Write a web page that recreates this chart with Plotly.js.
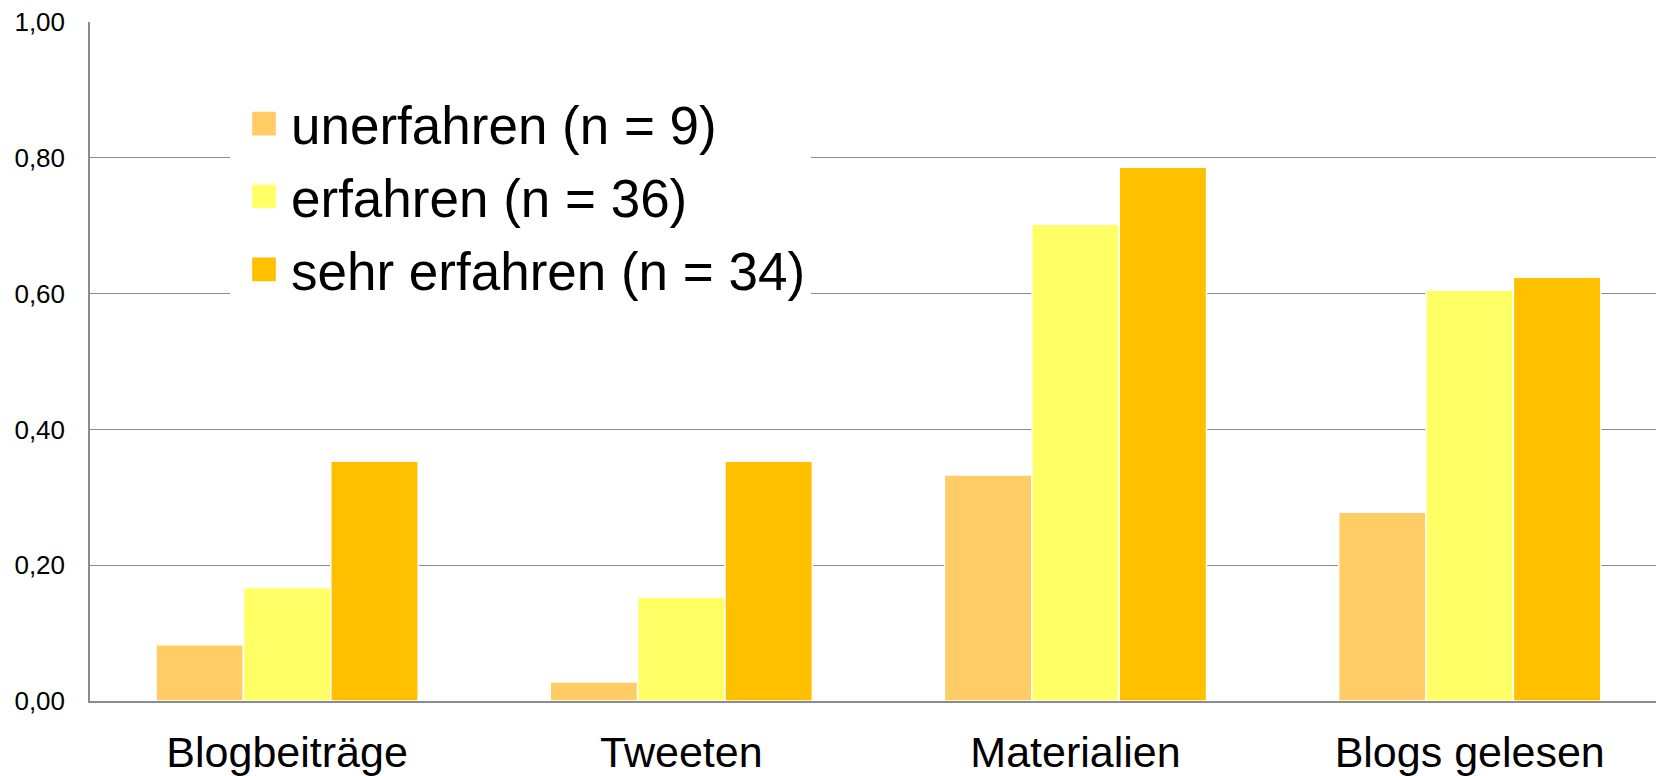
<!DOCTYPE html>
<html>
<head>
<meta charset="utf-8">
<script src="https://cdn.plot.ly/plotly-3.0.1.min.js"></script>
<style>
  html, body { margin: 0; padding: 0; background: #fff; }
  #chart { width: 1656px; height: 776px; }
  .legend .legendpoints path { transform: translate(34px, 0px) scale(2.25); }
</style>
</head>
<body>
<div id="chart"></div>
<script>
const categories = ["Blogbeiträge", "Tweeten", "Materialien", "Blogs gelesen"];
const seriesNames = ["unerfahren (n = 9)", "erfahren (n = 36)", "sehr erfahren (n = 34)"];
const unerfahren = [0.083, 0.028, 0.333, 0.278];
const erfahren = [0.167, 0.153, 0.702, 0.605];
const sehrErfahren = [0.353, 0.353, 0.786, 0.624];
const yTicks = [0, 0.2, 0.4, 0.6, 0.8, 1.0];

const colors = ["#FFCC66", "#FFFF66", "#FFC000"];
const seriesValues = [unerfahren, erfahren, sehrErfahren];

const traces = seriesValues.map((vals, i) => ({
  type: "bar",
  x: categories,
  y: vals,
  name: seriesNames[i],
  legendgroup: "g" + i,
  marker: { color: colors[i], line: { color: "#ffffff", width: 1.5 } },
  hoverinfo: "x+y+name"
}));

const layout = {
  width: 1656,
  height: 776,
  margin: { l: 90, r: 0, t: 22, b: 75 },
  paper_bgcolor: "#ffffff",
  plot_bgcolor: "#ffffff",
  separators: ",.",
  font: { family: "Liberation Sans, Arial, sans-serif", color: "#000000" },
  barmode: "group",
  bargap: 0.335,
  bargroupgap: 0,
  showlegend: true,
  legend: {
    x: 0.0894, y: 0.9107, xanchor: "left", yanchor: "top",
    bgcolor: "#ffffff", borderwidth: 0,
    font: { size: 53, family: "Liberation Sans, Arial, sans-serif", color: "#000000" },
    tracegroupgap: 1,
    itemwidth: 51
  },
  xaxis: {
    type: "category",
    range: [-0.5, 3.4726],
    showgrid: false,
    showline: true,
    linecolor: "#8c8c8c",
    linewidth: 1.5,
    ticks: "",
    tickfont: { size: 43, color: "#000000" },
    ticklabelstandoff: 13,
    zeroline: false,
    fixedrange: true
  },
  yaxis: {
    range: [0, 1],
    tickvals: yTicks,
    tickformat: ".2f",
    showgrid: true,
    gridcolor: "#8c8c8c",
    gridwidth: 1.3,
    showline: true,
    linecolor: "#8c8c8c",
    linewidth: 1.5,
    ticks: "",
    tickfont: { size: 26, color: "#000000" },
    ticklabelstandoff: 18,
    zeroline: false,
    fixedrange: true
  }
};

Plotly.newPlot("chart", traces, layout, { displayModeBar: false });
</script>
</body>
</html>
